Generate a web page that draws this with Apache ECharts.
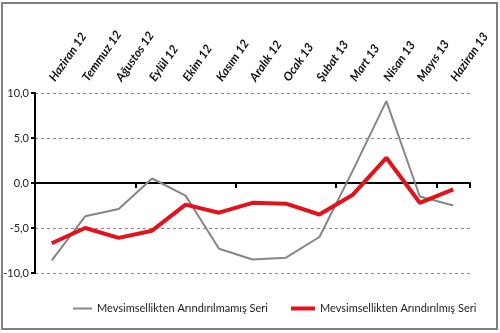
<!DOCTYPE html>
<html><head><meta charset="utf-8">
<script src="https://cdn.jsdelivr.net/npm/echarts@6/dist/echarts.min.js"></script>
<style>html,body{margin:0;padding:0;background:#fff}#c{width:500px;height:333px}</style>
</head><body><div id="c"></div>
<script>
var categories = ['Haziran 12','Temmuz 12','Ağustos 12','Eylül 12','Ekim 12','Kasım 12','Aralık 12','Ocak 13','Şubat 13','Mart 13','Nisan 13','Mayıs 13','Haziran 13'];
var unadjusted = [-8.6,-3.7,-2.9,0.5,-1.4,-7.3,-8.5,-8.3,-6.0,1.4,9.1,-1.5,-2.5];
var adjusted = [-6.7,-5.0,-6.1,-5.3,-2.4,-3.3,-2.2,-2.3,-3.5,-1.3,2.8,-2.2,-0.7];
var seriesNames = ['Mevsimsellikten Arındırılmamış Seri','Mevsimsellikten Arındırılmış Seri'];
var yTicks = [-10,-5,0,5,10];

var chart = echarts.init(document.getElementById('c'));
var font = 'Lato, "Open Sans", sans-serif';
var legText = {fontFamily:font,fontSize:11,color:'#222'};
chart.setOption({
  animation:false,
  graphic:[{type:'rect',shape:{x:2,y:3,width:495,height:326},style:{fill:'none',stroke:'#7f7f7f',lineWidth:2},silent:true}],
  grid:{left:35,right:30,top:93,bottom:60},
  legend:[
    {left:68,top:298,itemWidth:19,itemHeight:2,itemGap:10,textStyle:legText,
      data:[{name:seriesNames[0],icon:'rect'}]},
    {left:286,top:298,itemWidth:24,itemHeight:4,itemGap:10,textStyle:legText,
      data:[{name:seriesNames[1],icon:'rect'}]}
  ],
  xAxis:[{type:'category',data:categories,boundaryGap:true,
      axisLine:{onZero:true,lineStyle:{color:'#000',width:2}},
      axisTick:{show:true,length:5,inside:false,lineStyle:{color:'#000',width:2}},
      axisLabel:{show:false},splitLine:{show:false}},
    {type:'category',data:categories,position:'top',boundaryGap:true,
      axisLine:{show:false},axisTick:{show:false},splitLine:{show:false},
      axisLabel:{rotate:-55,margin:13,interval:0,fontFamily:font,fontSize:12,fontWeight:'bold',fontStyle:'italic',color:'#111'}}],
  yAxis:{type:'value',min:-10,max:10,interval:5,
    axisLine:{show:true,lineStyle:{color:'#000',width:2}},
    axisTick:{show:true,length:4,lineStyle:{color:'#000',width:2}},
    splitLine:{show:true,lineStyle:{color:'#888',type:[3,3],width:1}},
    axisLabel:{fontFamily:font,fontSize:11,color:'#222',margin:6,
      formatter:function(v){return v.toFixed(1).replace('.',',');}}},
  series:[
    {name:seriesNames[0],type:'line',data:unadjusted,symbol:'none',xAxisIndex:0,
      lineStyle:{color:'#868686',width:2},itemStyle:{color:'#868686'}},
    {name:seriesNames[1],type:'line',data:adjusted,symbol:'none',xAxisIndex:0,
      lineStyle:{color:'#e3121b',width:4},itemStyle:{color:'#e3121b'}}
  ]
});
</script></body></html>
